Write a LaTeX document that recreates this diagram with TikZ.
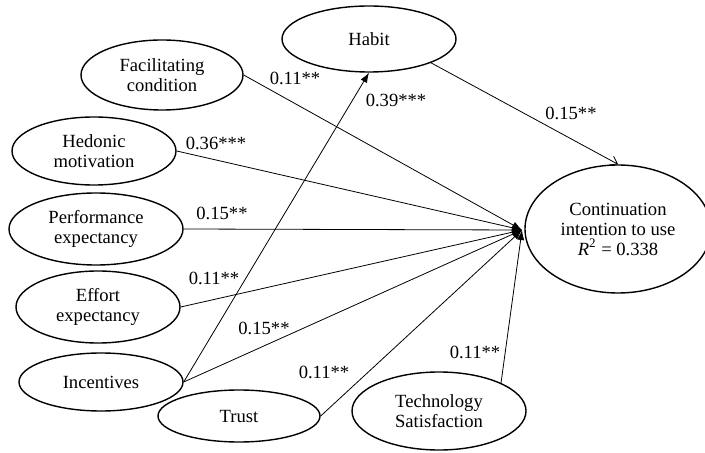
\documentclass[tikz,border=0pt]{standalone}
\usepackage{fontspec}
\setmainfont{Liberation Serif}
\usetikzlibrary{shapes.geometric,arrows.meta}
\begin{document}
\begin{tikzpicture}[x=0.5pt,y=-0.5pt,
  latent/.style={ellipse,draw,line width=0.7pt,inner sep=0pt,align=center,
    font=\fontsize{9.3}{10}\selectfont},
  path/.style={line width=0.4pt,-{Latex[length=5pt,width=3.6pt]}},
  openpath/.style={line width=0.4pt,-{Straight Barb[length=3.5pt,width=5pt]}},
  coef/.style={font=\fontsize{9.3}{10}\selectfont,inner sep=0pt}]
\useasboundingbox (0,0) rectangle (705,453);
\node[latent,minimum width=81pt,minimum height=35pt] (fc) at (162,75) {Facilitating\\condition};
\node[latent,minimum width=82pt,minimum height=34pt] (hm) at (94,151) {Hedonic\\motivation};
\node[latent,minimum width=87pt,minimum height=36pt] (pe) at (96,229) {Performance\\expectancy};
\node[latent,minimum width=82pt,minimum height=36pt] (ee) at (98,307) {Effort\\expectancy};
\node[latent,minimum width=82pt,minimum height=29pt] (in) at (101,382) {Incentives};
\node[latent,minimum width=81pt,minimum height=26pt] (tr) at (239,416) {Trust};
\node[latent,minimum width=87pt,minimum height=39pt] (ts) at (439,411) {Technology\\Satisfaction};
\node[latent,minimum width=87pt,minimum height=33pt] (hb) at (369,39) {Habit};
\node[latent,minimum width=93pt,minimum height=64pt] (ci) at (618,229) {Continuation\\intention to use\\\textit{R}\textsuperscript{2} = 0.338};
\coordinate (c) at (522,230);
\draw[path] (fc.east) -- (c);
\draw[path] (hm.east) -- (c);
\draw[path] (pe.east) -- (c);
\draw[path] (ee.east) -- (c);
\draw[path] (in.east) -- (c);
\draw[path] (tr.east) -- (c);
\draw[path] (ts.north east) -- (c);
\draw[path] (in.east) -- (hb.south);
\draw[openpath] (hb.south east) -- (ci.north);
\node[coef] (l1) at (295,78) {0.11**};
\node[coef] (l2) at (396,100) {0.39***};
\node[coef] (l3) at (571,113) {0.15**};
\node[coef] (l4) at (216,143) {0.36***};
\node[coef] (l5) at (222,213) {0.15**};
\node[coef] (l6) at (214,278) {0.11**};
\node[coef] (l7) at (264,328) {0.15**};
\node[coef] (l8) at (324,372) {0.11**};
\node[coef] (l9) at (475,352) {0.11**};
\end{tikzpicture}
\end{document}
